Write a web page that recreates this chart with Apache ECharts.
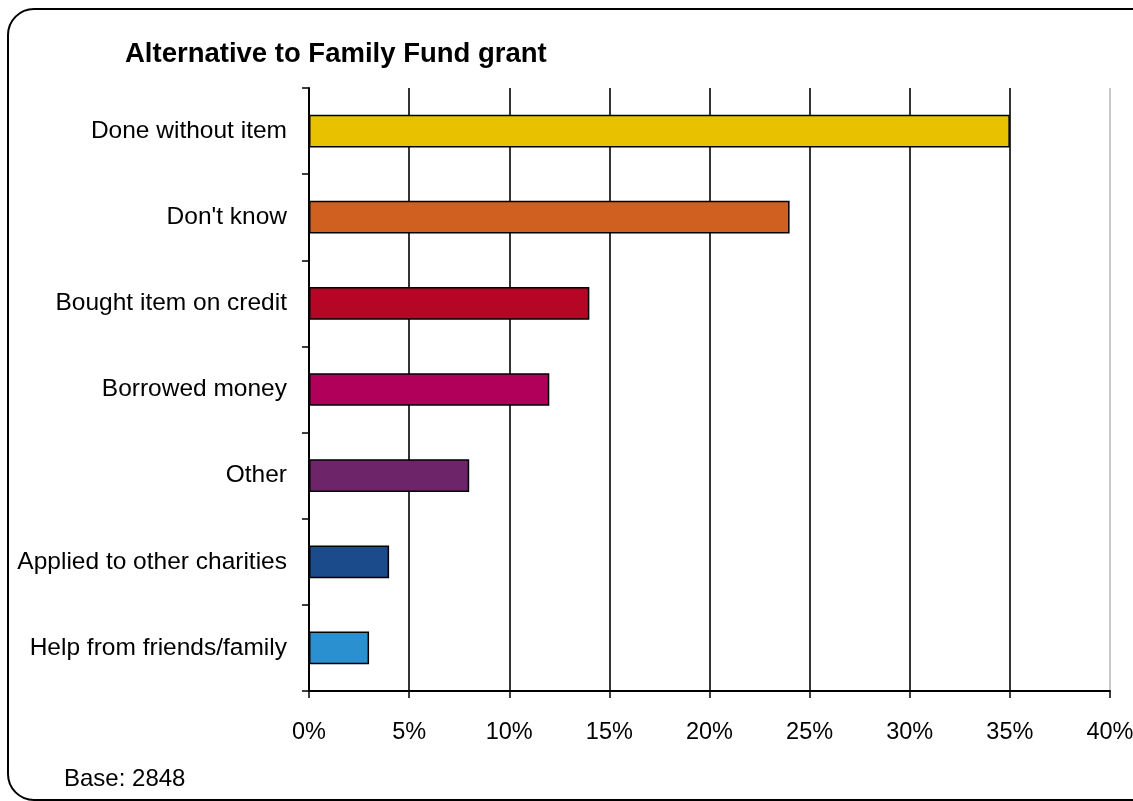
<!DOCTYPE html>
<html><head><meta charset="utf-8">
<script src="https://cdn.jsdelivr.net/npm/echarts@6/dist/echarts.min.js"></script>
<style>html,body{margin:0;padding:0;background:#fff}#c{width:1133px;height:801px}</style>
</head><body><div id="c"></div>
<script>
const categories = ["Done without item","Don't know","Bought item on credit","Borrowed money","Other","Applied to other charities","Help from friends/family"];
const values = [35,24,14,12,8,4,3];
const barColors = ["#E8C100","#D06020","#B50625","#B0005A","#6E2469","#1B4B8A","#2A90D0"];
const xTicks = [0,5,10,15,20,25,30,35,40];

const chart = echarts.init(document.getElementById('c'));
const FONT = '"Liberation Sans", Arial, sans-serif';
chart.setOption({
  animation:false,
  textStyle:{fontFamily:FONT},
  title:{text:'Alternative to Family Fund grant',left:120,top:35,textStyle:{fontFamily:FONT,fontSize:27.5,fontWeight:'bold',color:'#000'}},
  graphic:[
    {type:'rect',shape:{x:8,y:9,width:1150,height:791,r:26},style:{fill:'none',stroke:'#000',lineWidth:2},z:-1},
    {type:'text',left:64,top:767,style:{text:'Base: 2848',font:'24px '+FONT,fill:'#000'}}
  ],
  grid:{left:309,right:23,top:88,bottom:110,containLabel:false,outerBoundsMode:'none'},
  xAxis:{type:'value',min:xTicks[0],max:xTicks[xTicks.length-1],interval:xTicks[1]-xTicks[0],
    axisLine:{show:true,lineStyle:{color:'#000',width:2}},
    axisTick:{show:true,length:7,lineStyle:{color:'#000',width:1.5}},
    axisLabel:{formatter:v=>v+'%',fontSize:23.5,color:'#000',margin:30,fontFamily:FONT,hideOverlap:false},
    splitLine:{show:true,lineStyle:{color:['#000','#000','#000','#000','#000','#000','#000','#000','#bbb'],width:1.6}}
  },
  yAxis:{type:'category',data:categories,inverse:true,
    axisLine:{show:true,lineStyle:{color:'#000',width:2}},
    axisTick:{show:true,length:7,lineStyle:{color:'#000',width:1.5}},
    axisLabel:{fontSize:24.5,color:'#000',margin:22,fontFamily:FONT}
  },
  series:[{type:'bar',barWidth:'38%',
    data:values.map((v,i)=>({value:v,itemStyle:{color:barColors[i]}})),
    itemStyle:{borderColor:'#000',borderWidth:1.5}
  }]
});
</script></body></html>
